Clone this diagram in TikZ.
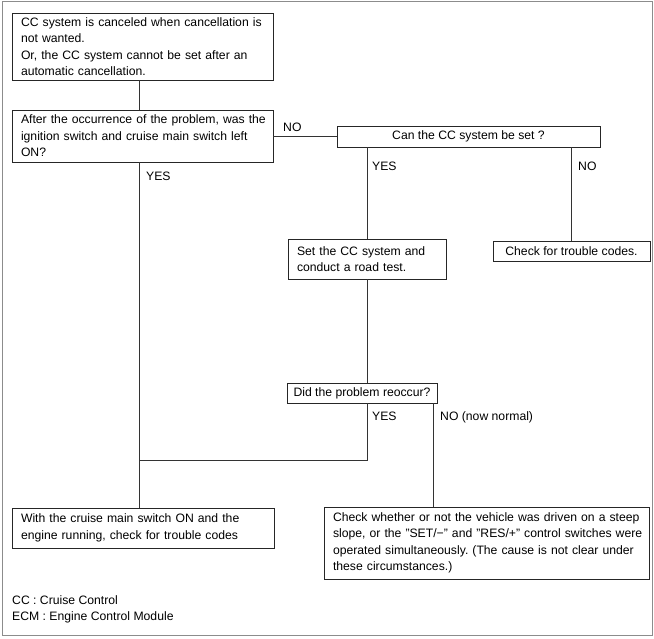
\documentclass[tikz,border=0pt]{standalone}
\usepackage{fontspec}
\setmainfont{Liberation Sans}
\frenchspacing
\begin{document}
\begin{tikzpicture}[x=1pt,y=-1pt,
  every node/.style={font=\fontsize{12.2}{16.5}\selectfont},
  box/.style={draw=black!85, line width=0.8pt, rectangle, inner ysep=1pt},
  tbox/.style={box, align=left, inner xsep=9pt, text width=#1-18pt, minimum width=#1},
  sbox/.style={box, align=center, inner xsep=0pt, minimum width=#1},
  conn/.style={draw=black!80, line width=0.8pt},
  lbl/.style={anchor=base west, inner sep=0pt}]
\useasboundingbox (0,0) rectangle (654,638);
\draw[black!45, line width=0.8pt] (2.5,1.5) rectangle (652,635);

\node[tbox=261pt, minimum height=67pt] (b1) at (142.5,46.5) {\mbox{CC system is canceled when cancellation is}\\\mbox{not wanted.}\\\mbox{Or, the CC system cannot be set after an}\\\mbox{automatic cancellation.}};
\node[tbox=261pt, minimum height=52pt] (b2) at (142.5,136) {\mbox{After the occurrence of the problem, was the}\\\mbox{ignition switch and cruise main switch left}\\\mbox{ON?}};
\node[sbox=263pt, minimum height=21pt] (can) at (468.5,136.5) {Can the CC system be set ?};
\node[tbox=158pt, minimum height=40pt] (set) at (367,259) {\mbox{Set the CC system and}\\\mbox{conduct a road test.}};
\node[sbox=157pt, minimum height=20pt] (chk) at (571.5,251) {Check for trouble codes.};
\node[sbox=150pt, minimum height=20pt] (did) at (362,393) {Did the problem reoccur?};
\node[tbox=262pt, minimum height=40pt] (with) at (143,528) {\mbox{With the cruise main switch ON and the}\\\mbox{engine running, check for trouble codes}};
\node[tbox=325pt, minimum height=72pt] (whe) at (486.5,543) {\mbox{Check whether or not the vehicle was driven on a steep}\\\mbox{slope, or the "SET/−" and "RES/+" control switches were}\\\mbox{operated simultaneously. (The cause is not clear under}\\\mbox{these circumstances.)}};

\coordinate (t1) at (139,0);
\coordinate (join) at (139,460);
\coordinate (yesx) at (367,0);
\coordinate (nox) at (433,0);

\draw[conn] (b1.south -| t1) -- (b2.north -| t1);
\draw[conn] (b2.south -| t1) -- (with.north -| t1);
\draw[conn] (b2.east |- can.west) -- (can.west);
\draw[conn] (set.north |- can.south) -- (set.north);
\draw[conn] (chk.north |- can.south) -- (chk.north);
\draw[conn] (set.south) -- (set.south |- did.north);
\draw[conn] (did.south -| yesx) -- (join -| yesx) -- (join);
\draw[conn] (did.south -| nox) -- (whe.north -| nox);

\node[lbl] (l1) at (283,131) {NO};
\node[lbl] (l2) at (146,180) {YES};
\node[lbl] (l3) at (372,170) {YES};
\node[lbl] (l4) at (578,170) {NO};
\node[lbl] (l5) at (372,420) {YES};
\node[lbl] (l6) at (440,420) {NO (now normal)};
\node[lbl] (f1) at (12,604) {CC : Cruise Control};
\node[lbl] (f2) at (12,620) {ECM : Engine Control Module};
\end{tikzpicture}
\end{document}
